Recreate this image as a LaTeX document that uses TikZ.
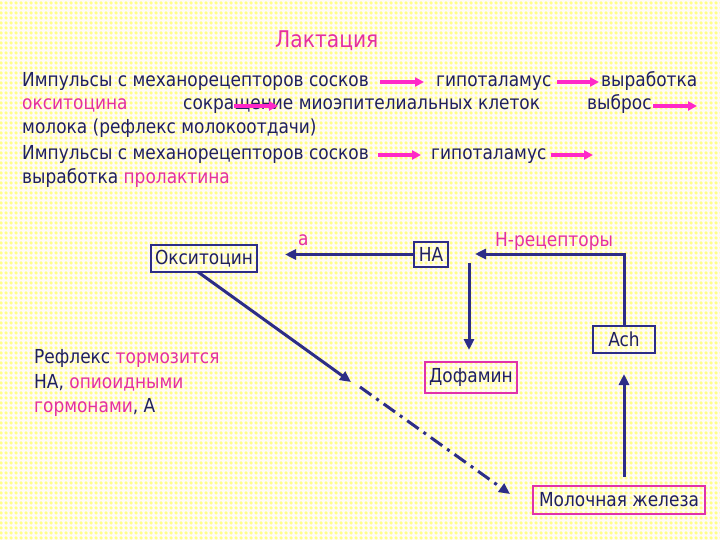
\documentclass[tikz,border=0pt]{standalone}
\usepackage{fontspec}
\setmainfont{DejaVu Sans}[FakeStretch=0.88]
\usetikzlibrary{arrows.meta,patterns.meta}
\definecolor{bg}{RGB}{255,250,245}
\definecolor{dotyellow}{RGB}{255,255,135}
\definecolor{ink}{RGB}{32,32,96}
\definecolor{pinktext}{RGB}{228,48,160}
\definecolor{parrow}{RGB}{255,40,200}
\definecolor{navy}{RGB}{45,45,135}
\definecolor{pinkbox}{RGB}{225,50,170}
\tikzdeclarepattern{
  name=ydots,
  type=colored,
  bottom left={(0pt,0pt)},
  top right={(5pt,5pt)},
  tile size={(5pt,5pt)},
  code={\fill[dotyellow] (2.5pt,2.5pt) circle (2.1pt);}
}
\begin{document}
\begin{tikzpicture}[x=1pt,y=-1pt,
  font=\fontsize{19.3}{24}\selectfont,
  txt/.style={anchor=base west, inner sep=0pt, text=ink},
  ptxt/.style={txt, text=pinktext},
  parr/.style={draw=parrow, line width=3.5pt, -{Triangle[length=9pt,width=9pt]}},
  narr/.style={draw=navy, line width=3pt, -{Triangle[length=11pt,width=10pt]}},
  nbox/.style={draw=navy, line width=2.5pt, text=ink, inner sep=0pt},
  pbox/.style={draw=pinkbox, line width=2.5pt, text=ink, inner sep=0pt}]
\useasboundingbox (0,0) rectangle (720,540);
\fill[bg] (0,0) rectangle (720,540);
\fill[pattern=ydots] (0,0) rectangle (720,540);
% title
\node[ptxt, font=\fontsize{23}{28}\selectfont] (title) at (275,48) {Лактация};
% line 1
\node[txt] (l1a) at (22,87) {Импульсы с механорецепторов сосков};
\node[txt] (l1b) at (436,87) {гипоталамус};
\node[txt] (l1c) at (601,87) {выработка};
\coordinate (p1s) at (380,82);
\coordinate (p1e) at (424,82);
\draw[parr] (p1s) -- (p1e);
\coordinate (p2s) at (557,82);
\coordinate (p2e) at (599,82);
\draw[parr] (p2s) -- (p2e);
% line 2
\node[ptxt] (l2a) at (22,110) {окситоцина};
\node[txt] (l2b) at (183,110) {сокращение миоэпителиальных клеток};
\node[txt] (l2c) at (587,110) {выброс};
\coordinate (p3s) at (234,106);
\coordinate (p3e) at (278,106);
\draw[parr] (p3s) -- (p3e);
\coordinate (p4s) at (653,106);
\coordinate (p4e) at (697,106);
\draw[parr] (p4s) -- (p4e);
% line 3
\node[txt] (l3) at (22,134) {молока (рефлекс молокоотдачи)};
% line 4
\node[txt] (l4a) at (22,160) {Импульсы с механорецепторов сосков};
\node[txt] (l4b) at (431,160) {гипоталамус};
\coordinate (p5s) at (378,155);
\coordinate (p5e) at (421,155);
\draw[parr] (p5s) -- (p5e);
\coordinate (p6s) at (551,155);
\coordinate (p6e) at (593,155);
\draw[parr] (p6s) -- (p6e);
% line 5
\node[txt] (l5) at (22,184) {выработка \textcolor{pinktext}{пролактина}};
% boxes
\node[nbox, minimum width=106pt, minimum height=27pt] (oks) at (204,258.5) {Окситоцин};
\node[ptxt] (alpha) at (298,245) {а};
\node[nbox, minimum width=34pt, minimum height=25pt] (na) at (431,254.5) {НА};
\node[ptxt] (hrec) at (495,247) {Н-рецепторы};
\node[pbox, minimum width=92pt, minimum height=31pt] (dof) at (471,377.5) {Дофамин};
\node[nbox, minimum width=62pt, minimum height=27pt] (ach) at (624,339.5) {Ach};
\node[pbox, minimum width=172pt, minimum height=28pt] (mol) at (619,500) {Молочная железа};
% bottom-left text
\node[txt] (r1) at (34,363) {Рефлекс \textcolor{pinktext}{тормозится}};
\node[txt] (r2) at (34,388) {НА, \textcolor{pinktext}{опиоидными}};
\node[txt] (r3) at (34,412) {\textcolor{pinktext}{гормонами}, А};
% connectors
\coordinate (aTip) at (285,254.5);
\draw[narr] (na.west) -- (aTip);
\coordinate (hTip) at (475,254);
\draw[narr] (ach.north) |- (hTip);
\coordinate (dS) at (469,263);
\coordinate (dE) at (469,350);
\draw[narr] (dS) -- (dE);
\coordinate (uS) at (624,477);
\coordinate (uE) at (624,374);
\draw[narr] (uS) -- (uE);
\coordinate (oS) at (198,272);
\coordinate (oE) at (351,382);
\draw[narr] (oS) -- (oE);
\coordinate (ddS) at (360,387);
\coordinate (ddE) at (510,494);
\draw[narr, dash pattern=on 14pt off 6pt on 3pt off 6pt] (ddS) -- (ddE);
\end{tikzpicture}
\end{document}
